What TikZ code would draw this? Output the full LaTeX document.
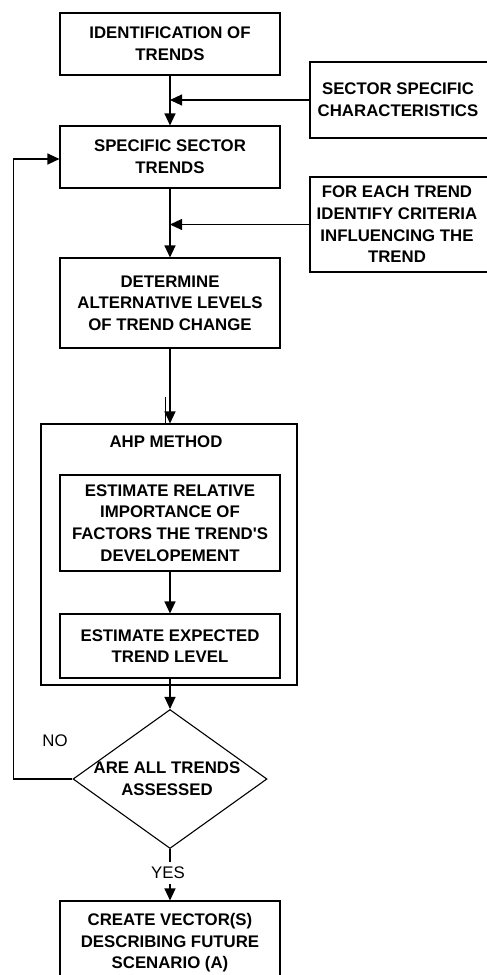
\documentclass[tikz,border=0pt]{standalone}
\usepackage{fontspec}
\setmainfont{Liberation Sans}
\usetikzlibrary{shapes.geometric,arrows.meta}
\begin{document}
\begin{tikzpicture}[x=1pt,y=-1pt,
  every node/.style={font=\fontsize{16.8}{21.6}\selectfont\bfseries, align=center},
  box/.style={draw, line width=1.1pt, minimum width=220pt, inner sep=0pt},
  arr/.style={-{Triangle[length=12pt,width=11pt]}, line width=1.1pt},
  ln/.style={line width=1.1pt},
  plain/.style={font=\fontsize{16.8}{21.6}\selectfont}]
\useasboundingbox (0,0) rectangle (487,975);
\clip (0,0) rectangle (487,975);

% main column
\node[box, minimum height=62pt] (ident) at (170,44) {IDENTIFICATION OF\\TRENDS};
\node[box, minimum height=62pt] (spec) at (170,157) {SPECIFIC SECTOR\\TRENDS};
\node[box, minimum height=90pt] (determine) at (170,303) {DETERMINE\\ALTERNATIVE LEVELS\\OF TREND CHANGE};

% side inputs (running off the right edge)
\node[box, minimum width=190pt, minimum height=76pt,
  label={[xshift=-7pt]center:SECTOR SPECIFIC\\CHARACTERISTICS}] (sector) at (405,100) {};
\node[box, minimum width=190pt, minimum height=95pt,
  label={[xshift=-8pt]center:FOR EACH TREND\\IDENTIFY CRITERIA\\INFLUENCING THE\\TREND}] (crit) at (405,224.5) {};

% AHP block
\node[box, minimum width=256pt, minimum height=261pt] (ahp) at (169,554.5) {};
\node (ahptitle) at (166,442) {AHP METHOD};
\node[box, minimum height=96pt] (relA) at (170,523) {ESTIMATE RELATIVE\\IMPORTANCE OF\\FACTORS THE TREND\textquotesingle S\\DEVELOPEMENT};
\node[box, minimum height=64pt] (relB) at (170,646) {ESTIMATE EXPECTED\\TREND LEVEL};

% decision
\node[draw, diamond, ln, minimum width=194pt, minimum height=139pt, inner sep=0pt,
  label={[xshift=-3pt]center:ARE ALL TRENDS\\ASSESSED}] (dec) at (170,779) {};
\node[plain] (no) at (55,741) {NO};
\node[plain, inner ysep=5pt] (yes) at (168,873) {YES};

\node[box, minimum height=84pt] (final) at (170,943) {CREATE VECTOR(S)\\DESCRIBING FUTURE\\SCENARIO (A)};

% connectors
\coordinate (loopx) at (13.5,0);
\draw[arr] (ident) -- (spec);
\draw[arr] (sector.west) -- (sector.west -| ident.south);
\draw[arr] (spec) -- (determine);
\draw[arr] (crit.west) -- (crit.west -| spec.south);
\draw[arr] (determine) -- (ahp.north -| determine.south);
\draw[ln] ([xshift=-3.5pt]ahp.north) -- ++(0,-26);
\draw[arr] (relA) -- (relB);
\draw[arr] (relB) -- (dec);
\draw[arr] (dec.west) -- (dec.west -| loopx) |- ([yshift=-2pt]spec.west);
\draw[ln] (dec.south) -- (dec.south |- yes.north);
\draw[arr] (final.north |- yes.south) -- (final.north);
\end{tikzpicture}
\end{document}
